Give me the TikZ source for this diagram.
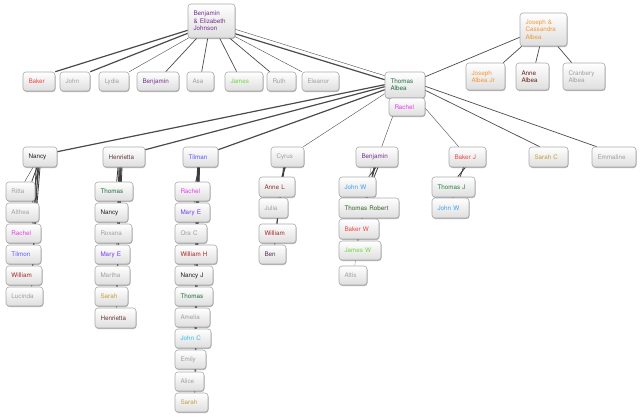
\documentclass[tikz,border=0pt]{standalone}
\usepackage{fontspec}
\setmainfont{TeX Gyre Heros}
\usetikzlibrary{shadows,calc}
\pgfdeclarelayer{back}
\pgfdeclarelayer{bg}
\pgfsetlayers{back,bg,main}
\definecolor{cpurple}{RGB}{115,50,140}
\definecolor{cred}{RGB}{240,70,70}
\definecolor{cgray}{RGB}{160,160,160}
\definecolor{clgreen}{RGB}{110,215,60}
\definecolor{cdgreen}{RGB}{30,110,60}
\definecolor{cmagenta}{RGB}{230,60,230}
\definecolor{corange}{RGB}{245,150,50}
\definecolor{cdbrown}{RGB}{100,30,20}
\definecolor{cblack}{RGB}{30,30,30}
\definecolor{cbrown}{RGB}{100,60,60}
\definecolor{cblue}{RGB}{90,90,255}
\definecolor{cviolet}{RGB}{120,60,240}
\definecolor{cdred}{RGB}{170,40,40}
\definecolor{colive}{RGB}{190,160,60}
\definecolor{ccyan}{RGB}{50,190,240}
\definecolor{clblue}{RGB}{60,160,240}
\definecolor{cbrownred}{RGB}{140,50,40}
\definecolor{cdpurple}{RGB}{90,50,90}
\definecolor{cdgreen2}{RGB}{50,100,40}
\definecolor{cgreen}{RGB}{40,130,60}
\definecolor{cline}{RGB}{75,75,75}
\definecolor{cborder}{RGB}{170,170,170}
\definecolor{cshade}{RGB}{222,222,222}
\newcommand\nbox[7]{%
  \pgfmathsetmacro\bxw{#4-#2}\pgfmathsetmacro\bxh{#5-#3}\pgfmathsetmacro\bxt{#4-#2-11}%
  \node[fbx, text=#6, minimum width=\bxw pt, minimum height=\bxh pt, text width=\bxt pt] (#1) at ({(#2+#4)/2},{(#3+#5)/2}) {#7};}
\begin{document}
\begin{tikzpicture}[x=1pt,y=-1pt,
  fbx/.style={rectangle, rounded corners=3pt, draw=cborder, line width=0.6pt,
    top color=white, bottom color=cshade, align=left, inner xsep=5.5pt, inner ysep=1pt,
    font=\fontsize{6.3}{7.4}\selectfont,
    drop shadow={shadow xshift=0.5pt, shadow yshift=-1pt, opacity=0.3, fill=black}},
  ln/.style={draw=cline, line width=0.7pt},
  thk/.style={draw=cline, line width=1.2pt},
  thn/.style={draw=cline, line width=0.4pt},
  col/.style={draw=cline!80!black, line width=0.8pt}]
\begin{pgfonlayer}{back}
\fill[white] (0,0) rectangle (640,416);
\end{pgfonlayer}
\useasboundingbox (0,0) rectangle (640,416);
% top family
\nbox{be}{188}{4}{235}{38}{cpurple}{Benjamin\\\& Elizabeth\\Johnson}
\nbox{baker}{23}{72}{55}{91}{cred}{Baker}
\nbox{john}{60}{72}{90}{91}{cgray}{John}
\nbox{lydia}{99}{72}{129}{91}{cgray}{Lydia}
\nbox{bja}{137}{72}{179}{91}{cpurple}{Benjamin}
\nbox{asa}{187}{72}{214}{91}{cgray}{Asa}
\nbox{james}{225}{72}{263}{91}{clgreen}{James}
\nbox{ruth}{267}{72}{296}{91}{cgray}{Ruth}
\nbox{eleanor}{302}{72}{339}{91}{cgray}{Eleanor}
\nbox{ta}{385}{72}{425}{98}{cdgreen}{Thomas\\Albea}
\nbox{rachel}{389}{98}{425}{116}{cmagenta}{Rachel}
\nbox{jc}{520}{13}{567}{46}{corange}{Joseph \&\\Cassandra\\Albea}
\nbox{jr}{466}{63}{505}{90}{corange}{Joseph\\Albea Jr}
\nbox{anne}{516}{63}{549}{90}{cdbrown}{Anne\\Albea}
\nbox{cran}{563}{63}{605}{90}{cgray}{Cranbery\\Albea}
% row 2
\nbox{nancy}{23}{147}{57}{167}{cblack}{Nancy}
\nbox{henr}{103}{147}{145}{167}{cbrown}{Henrietta}
\nbox{tilman}{183}{147}{218}{167}{cblue}{Tilman}
\nbox{cyrus}{271}{147}{304}{167}{cgray}{Cyrus}
\nbox{bjb}{356}{147}{398}{167}{cpurple}{Benjamin}
\nbox{bakerj}{449}{147}{486}{167}{cred}{Baker J}
\nbox{sarahc}{529}{147}{568}{167}{colive}{Sarah C}
\nbox{emma}{592}{147}{636}{167}{cgray}{Emmaline}
% Nancy column
\nbox{ritta}{6}{182}{35}{201}{cgray}{Ritta}
\nbox{althea}{6}{203}{39}{222}{cgray}{Althea}
\nbox{rachn}{6}{224}{41}{243}{cmagenta}{Rachel}
\nbox{tilmon}{6}{245}{41}{264}{cblue}{Tilmon}
\nbox{willn}{6}{266}{42}{285}{cdred}{William}
\nbox{lucinda}{6}{287}{43}{306}{cgray}{Lucinda}
% Henrietta column
\nbox{thomh}{95}{182}{133}{201}{cdgreen}{Thomas}
\nbox{nancyh}{95}{203}{128}{222}{cblack}{Nancy}
\nbox{roxana}{95}{224}{132}{243}{cgray}{Roxana}
\nbox{marye}{95}{245}{130}{264}{cviolet}{Mary E}
\nbox{martha}{95}{266}{130}{285}{cgray}{Martha}
\nbox{sarahh}{95}{287}{128}{306}{colive}{Sarah}
\nbox{henrh}{95}{308}{136}{328}{cbrown}{Henrietta}
% Tilman column
\nbox{racht}{175}{182}{210}{201}{cmagenta}{Rachel}
\nbox{maryt}{175}{203}{210}{222}{cviolet}{Mary E}
\nbox{orac}{175}{224}{207}{243}{cgray}{Ora C}
\nbox{willh}{175}{245}{217}{264}{cdred}{William H}
\nbox{nancyj}{175}{266}{213}{285}{cblack}{Nancy J}
\nbox{thomt}{175}{287}{213}{306}{cdgreen}{Thomas}
\nbox{amelia}{175}{308}{210}{327}{cgray}{Amelia}
\nbox{johnc}{175}{329}{211}{348}{ccyan}{John C}
\nbox{emily}{175}{350}{206}{369}{cgray}{Emily}
\nbox{alice}{175}{372}{204}{391}{cgray}{Alice}
\nbox{saraht}{175}{393}{208}{412}{colive}{Sarah}
% Cyrus column
\nbox{annel}{259}{177}{295}{197}{cbrownred}{Anne L}
\nbox{julia}{259}{198}{288}{218}{cgray}{Julia}
\nbox{willc}{259}{224}{296}{243}{cdred}{William}
\nbox{ben}{259}{245}{286}{264}{cdpurple}{Ben}
% Benjamin column
\nbox{johnw}{339}{177}{376}{197}{clblue}{John W}
\nbox{thomr}{339}{198}{399}{218}{cdgreen2}{Thomas Robert}
\nbox{bakerw}{339}{219}{379}{239}{cred}{Baker W}
\nbox{jamesw}{339}{241}{381}{260}{clgreen}{James W}
\nbox{altis}{339}{266}{367}{285}{cgray}{Altis}
% Baker J column
\nbox{thomj}{432}{177}{475}{197}{cgreen}{Thomas J}
\nbox{johnwb}{432}{198}{469}{218}{clblue}{John W}
\begin{pgfonlayer}{bg}
% from Benjamin & Elizabeth
\draw[thk] ($(be.south west)+(0,-8)$) -- (baker.north east);
\draw[thk] ($(be.south west)+(0,-5)$) -- (john.north east);
\draw[thn] ($(be.south west)+(2,-1)$) -- (lydia.north east);
\draw[ln] ($(be.south west)+(9,0)$) -- ($(bja.north west)+(29,0)$);
\draw[ln] ($(be.south west)+(20,0)$) -- ($(asa.north west)+(15,0)$);
\draw[ln] ($(be.south west)+(32,0)$) -- ($(james.north west)+(12,0)$);
\draw[ln] ($(be.south west)+(41,-1)$) -- ($(ruth.north west)+(3,0)$);
\draw[thn] ($(be.south west)+(45,-3)$) -- (eleanor.north west);
\draw[thk] ($(be.south west)+(46,-5)$) -- ($(ta.north west)+(0,8)$);
\draw[thn] ($(be.south east)+(0,-9)$) -- ($(ta.north west)+(0,4)$);
% from Thomas Albea
\draw[thk] ($(ta.north west)+(0,13)$) -- ($(nancy.north east)+(0,5)$);
\draw[thk] ($(ta.north west)+(0,15)$) -- ($(henr.north east)+(0,3)$);
\draw[thk] ($(ta.north west)+(0,18)$) -- ($(tilman.north east)+(0,3)$);
\draw[thn] ($(ta.north west)+(0,22)$) -- ($(cyrus.north east)+(-1,0)$);
\draw[thn] ($(rachel.south west)+(4,0)$) -- ($(bjb.north west)+(26,0)$);
\draw[thn] ($(rachel.south east)+(0,-8)$) -- ($(bakerj.north west)+(10,0)$);
\draw[ln] ($(ta.south east)+(0,-8)$) -- ($(sarahc.north west)+(11,0)$);
\draw[ln] ($(ta.south east)+(0,-12)$) -- ($(emma.north west)+(5,0)$);
\draw[ln] ($(ta.north east)+(0,5)$) -- ($(jc.south west)+(0,-9)$);
% Joseph & Cassandra
\draw[ln] ($(jc.south west)+(2,0)$) -- ($(jr.north east)+(-2,0)$);
\draw[ln] ($(jc.south west)+(20,0)$) -- ($(anne.north west)+(20,0)$);
\draw[ln] ($(jc.south west)+(38,0)$) -- ($(cran.north west)+(9,0)$);
% Nancy column
\draw[thn] ($(nancy.south)+(-7,0)$) -- ($(ritta.north west)+(19,0)$);
\foreach \c/\s/\e in {ritta/-3/26,althea/-2/27,rachn/-1/27,tilmon/0/28,willn/-4/27,lucinda/-2/26}
  \draw[col] ($(nancy.south)+(\s,0)$) -- ($(\c.north west)+(\e,0)$);
% Henrietta column
\foreach \c/\s/\e in {thomh/-6/22,nancyh/-5/23,roxana/-4/23,marye/-3/22,martha/-2/23,sarahh/-3/22,henrh/-4/22}
  \draw[col] ($(henr.south)+(\s,0)$) -- ($(\c.north west)+(\e,0)$);
% Tilman column
\foreach \c/\s/\e in {racht/-1/21,maryt/-2/20,orac/-3/21,willh/-2/21,nancyj/-1/20,thomt/-2/21,amelia/-3/21,johnc/-2/20,emily/-1/21,alice/-2/21,saraht/-3/20}
  \draw[col] ($(tilman.south)+(\s,0)$) -- ($(\c.north west)+(\e,0)$);
% Cyrus column
\foreach \c/\s/\e in {annel/-2/23,julia/-3/20,willc/-3/18,ben/-4/16}
  \draw[col] ($(cyrus.south)+(\s,0)$) -- ($(\c.north west)+(\e,0)$);
% Benjamin column
\foreach \c/\s/\e in {johnw/-1/30,thomr/1/27,bakerw/-2/23,jamesw/-3/19}
  \draw[col] ($(bjb.south)+(\s,0)$) -- ($(\c.north west)+(\e,0)$);
\draw[draw=cgray, line width=0.4pt] ($(bjb.south)+(-6,0)$) -- ($(altis.north west)+(16,0)$);
% Baker J column
\foreach \c/\s/\e in {thomj/-2/26,johnwb/-4/21}
  \draw[col] ($(bakerj.south)+(\s,0)$) -- ($(\c.north west)+(\e,0)$);
\end{pgfonlayer}
\end{tikzpicture}
\end{document}
